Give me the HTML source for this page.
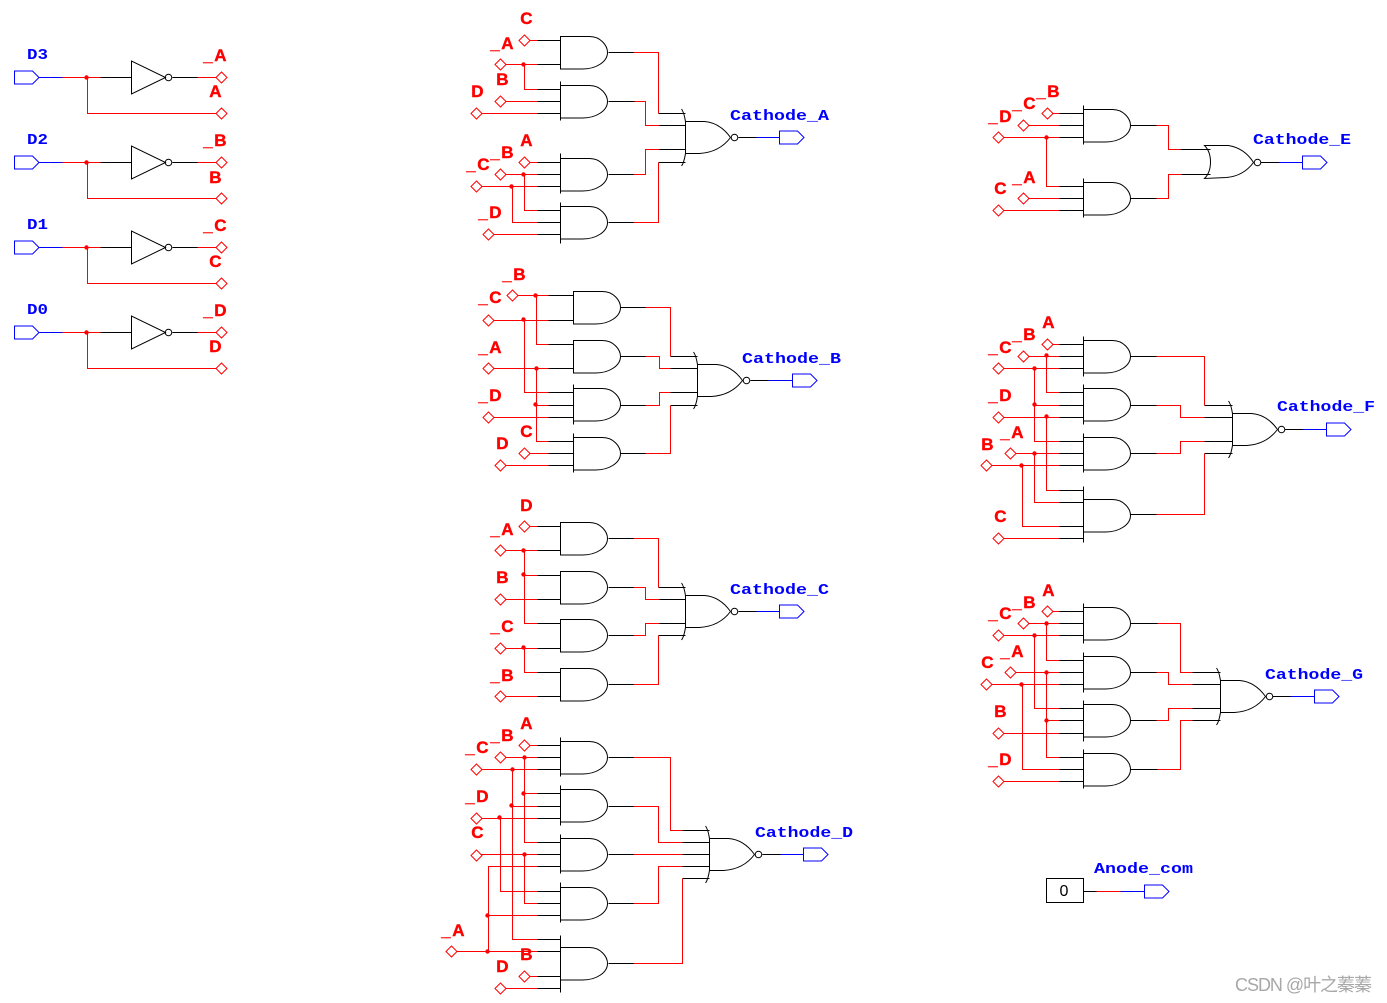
<!DOCTYPE html>
<html>
<head>
<meta charset="utf-8">
<style>
html,body{margin:0;padding:0;background:#fff;}
svg{display:block;}
.r{font:bold 17px "Liberation Sans",sans-serif;fill:#f00;stroke:#f00;stroke-width:.4px;}
.u{letter-spacing:1.5px;}
.b{font:bold 15px "Liberation Mono",monospace;fill:#00f;}
</style>
</head>
<body>
<svg width="1387" height="1003" viewBox="0 0 1387 1003" xmlns="http://www.w3.org/2000/svg">
<defs>
<path id="a" d="M0 0H29C40 0 47 9 47 16C47 25 36 32.5 22 32.5H0Z" fill="none" stroke="#000"/>
<g id="n" fill="none" stroke="#000">
<path d="M0 -16H19C32 -15 40 -7 45 0C39 8 30 15 14 16H0Z"/>
<path d="M-4 -28.5C-2 -26 -1 -22 0 -16V16C-1 22 -2 26 -4 28.5"/>
<circle cx="49" cy="0" r="3.3"/>
</g>
<path id="p" d="M0 -6.5H18L24.5 0L18 6.5H0Z" fill="none" stroke="#00f"/>
<path id="d" d="M-5.5 0L0 -5.5L5.5 0L0 5.5Z" fill="none" stroke="#f00"/>
<circle id="j" r="2.2" fill="#f00"/>
<g id="i" fill="none" stroke="#000">
<path d="M131 -16.5V16.5L165 0Z"/>
<circle cx="168" cy="0" r="3.3"/>
</g>
</defs>

<g transform="translate(0.5,0.5)">
<!-- inverters -->
<g fill="none" stroke-width="1">
<path stroke="#00f" d="M39 77H62M39 162H62M39 247H62M39 332H62"/>
<path stroke="#f00" d="M62 77H100M87 77V113H216M197 77H216M62 162H100M87 162V198H216M197 162H216M62 247H100M87 247V283H216M197 247H216M62 332H100M87 332V368H216M197 332H216"/>
<path stroke="#000" d="M100 77H131M172 77H197M100 162H131M172 162H197M100 247H131M172 247H197M100 332H131M172 332H197"/>
</g>
<use href="#i" y="77"/><use href="#i" y="162"/><use href="#i" y="247"/><use href="#i" y="332"/>
<use href="#p" x="14" y="77"/><use href="#p" x="14" y="162"/><use href="#p" x="14" y="247"/><use href="#p" x="14" y="332"/>
<use href="#j" x="86" y="77"/><use href="#j" x="86" y="162"/><use href="#j" x="86" y="247"/><use href="#j" x="86" y="332"/>
<use href="#d" x="221" y="77"/><use href="#d" x="221" y="113"/><use href="#d" x="221" y="162"/><use href="#d" x="221" y="198"/><use href="#d" x="221" y="247"/><use href="#d" x="221" y="283"/><use href="#d" x="221" y="332"/><use href="#d" x="221" y="368"/>

<!-- Section A -->
<g fill="none">
<path stroke="#000" d="M537 40H560M537 64H560M537 89H560M537 101H560M537 113H560M537 162H560M537 174H560M537 186H560M537 210H560M537 222H560M537 234H560M560 81V120M560 153V193M560 202V243M608 52H633M608 101H634M608 174H633M608 222H633M658 113H685M659 125H685M659 149H685M658 162H685M738 137H756"/>
<path stroke="#f00" d="M529 40H537M505 64H537M524 64V89H537M505 101H537M481 113H537M529 162H537M505 174H537M524 174V210H537M481 186H537M512 186V222H537M493 234H537M633 52H658V113M634 101H645V125H659M633 174H645V149H659M633 222H658V162"/>
<path stroke="#00f" d="M756 137H779"/>
</g>
<use href="#a" x="560" y="36"/><use href="#a" x="560" y="85"/><use href="#a" x="560" y="158"/><use href="#a" x="560" y="206"/>
<use href="#n" x="685" y="137"/><use href="#p" x="779" y="137"/>
<use href="#j" x="523" y="64"/><use href="#j" x="523" y="174"/><use href="#j" x="511" y="186"/>
<use href="#d" x="524" y="40"/><use href="#d" x="500" y="64"/><use href="#d" x="500" y="101"/><use href="#d" x="476" y="113"/><use href="#d" x="524" y="162"/><use href="#d" x="500" y="174"/><use href="#d" x="476" y="186"/><use href="#d" x="488" y="234"/>

<!-- Section B -->
<g fill="none">
<path stroke="#000" d="M548 295H573M548 320H573M548 344H573M548 368H573M548 392H573M548 405H573M548 417H573M548 441H573M548 453H573M548 465H573M573 384V424M573 433V472M620 307H645M620 356H645M620 405H645M620 453H645M670 356H697M670 368H697M670 392H697M670 405H697M750 380H768"/>
<path stroke="#f00" d="M517 295H548M536 295V344H548M493 320H548M524 320V392H548M493 368H548M536 368V441H548M536 405H548M493 417H548M529 453H548M505 465H548M645 307H670V356M645 356H659V368H670M645 405H659V392H670M645 453H670V405"/>
<path stroke="#00f" d="M768 380H792"/>
</g>
<use href="#a" x="573" y="291"/><use href="#a" x="573" y="340"/><use href="#a" x="573" y="388"/><use href="#a" x="573" y="437"/>
<use href="#n" x="697" y="380"/><use href="#p" x="792" y="380"/>
<use href="#j" x="535" y="295"/><use href="#j" x="523" y="319"/><use href="#j" x="536" y="368"/><use href="#j" x="535" y="404"/>
<use href="#d" x="512" y="295"/><use href="#d" x="488" y="320"/><use href="#d" x="488" y="368"/><use href="#d" x="488" y="417"/><use href="#d" x="524" y="453"/><use href="#d" x="500" y="465"/>

<!-- Section C -->
<g fill="none">
<path stroke="#000" d="M537 526H560M537 550H560M537 575H560M537 599H560M537 623H560M537 648H560M537 672H560M537 696H560M608 538H633M608 587H633M608 635H633M608 684H633M658 587H685M659 599H685M659 623H685M658 635H685M738 611H756"/>
<path stroke="#f00" d="M529 526H537M505 550H537M524 550V623H537M524 575H537M505 599H537M505 648H537M524 648V672H537M505 696H537M633 538H658V587M633 587H645V599H659M633 635H645V623H659M633 684H658V635"/>
<path stroke="#00f" d="M756 611H779"/>
</g>
<use href="#a" x="560" y="522"/><use href="#a" x="560" y="571"/><use href="#a" x="560" y="619"/><use href="#a" x="560" y="668"/>
<use href="#n" x="685" y="611"/><use href="#p" x="779" y="611"/>
<use href="#j" x="523" y="550"/><use href="#j" x="523" y="574"/><use href="#j" x="523" y="647"/>
<use href="#d" x="524" y="526"/><use href="#d" x="500" y="550"/><use href="#d" x="500" y="599"/><use href="#d" x="500" y="648"/><use href="#d" x="500" y="696"/>

<!-- Section D -->
<g fill="none">
<path stroke="#000" d="M537 745H560M537 757H560M537 769H560M537 793H560M537 806H560M537 818H560M537 842H560M537 854H560M537 866H560M537 891H560M537 903H560M537 915H560M537 939H560M537 951H560M537 976H560M537 988H560M560 737V776M560 785V825M560 834V873M560 882V922M560 935V992M608 757H633M608 806H633M608 854H633M608 903H633M608 963H633M682 830H709M682 842H709M682 854H709M682 866H709M682 878H709M762 854H780"/>
<path stroke="#f00" d="M529 745H537M505 757H537M524 757V842H537M524 793H537M481 769H537M512 769V939H537M512 806H537M481 818H537M500 818V891H537M481 854H537M524 854V903H537M456 951H537M488 951V866H537M488 915H537M529 976H537M505 988H537M633 757H670V830H682M633 806H658V842H682M633 854H682M633 903H658V866H682M633 963H682V878"/>
<path stroke="#00f" d="M780 854H803"/>
</g>
<use href="#a" x="560" y="741"/><use href="#a" x="560" y="789"/><use href="#a" x="560" y="838"/><use href="#a" x="560" y="887"/><use href="#a" x="560" y="947"/>
<use href="#n" x="709" y="854"/><use href="#p" x="803" y="854"/>
<use href="#j" x="524" y="757"/><use href="#j" x="523" y="793"/><use href="#j" x="512" y="769"/><use href="#j" x="511" y="805"/><use href="#j" x="499" y="817"/><use href="#j" x="524" y="854"/><use href="#j" x="487" y="915"/><use href="#j" x="487" y="951"/>
<use href="#d" x="524" y="745"/><use href="#d" x="500" y="757"/><use href="#d" x="476" y="769"/><use href="#d" x="476" y="818"/><use href="#d" x="476" y="855"/><use href="#d" x="451" y="951"/><use href="#d" x="524" y="976"/><use href="#d" x="500" y="988"/>

<!-- Section E -->
<g fill="none">
<path stroke="#000" d="M1059 113H1083M1059 125H1083M1059 137H1083M1059 186H1083M1059 198H1083M1059 210H1083M1083 105V144M1083 178V217M1130 125H1156M1130 198H1156M1180 149H1210M1181 174H1210M1260 162H1278"/>
<path stroke="#f00" d="M1052 113H1059M1028 125H1059M1003 137H1059M1046 137V186H1059M1028 198H1059M1003 210H1059M1156 125H1168V149H1180M1156 198H1168V174H1181"/>
<path stroke="#00f" d="M1278 162H1302"/>
<path stroke="#000" d="M1204 145H1228C1240 147 1248 154 1253 162C1247 170 1238 176 1226 177L1204 178C1212 170 1212 153 1204 145Z"/>
<circle cx="1257" cy="162" r="3.3" stroke="#000"/>
</g>
<use href="#a" x="1083" y="109"/><use href="#a" x="1083" y="182"/>
<use href="#p" x="1302" y="162"/>
<use href="#j" x="1046" y="137"/>
<use href="#d" x="1047" y="113"/><use href="#d" x="1023" y="125"/><use href="#d" x="998" y="137"/><use href="#d" x="1023" y="198"/><use href="#d" x="998" y="210"/>

<!-- Section F -->
<g fill="none">
<path stroke="#000" d="M1059 344H1083M1059 356H1083M1059 368H1083M1059 392H1083M1059 405H1083M1059 417H1083M1059 441H1083M1059 453H1083M1059 465H1083M1059 490H1083M1059 502H1083M1059 526H1083M1059 538H1083M1083 336V376M1083 384V424M1083 433V472M1083 486V542M1130 356H1156M1130 405H1156M1130 453H1156M1130 514H1156M1204 405H1232M1204 417H1232M1204 441H1232M1204 453H1232M1284 429H1302"/>
<path stroke="#f00" d="M1052 344H1059M1028 356H1059M1046 356V392H1059M1003 368H1059M1034 368V441H1059M1034 405H1059M1003 417H1059M1046 417V490H1059M1015 453H1059M1034 453V502H1059M991 465H1059M1022 465V526H1059M1003 538H1059M1156 356H1204V405M1156 405H1180V417H1204M1156 453H1180V441H1204M1156 514H1204V453"/>
<path stroke="#00f" d="M1302 429H1326"/>
</g>
<use href="#a" x="1083" y="340"/><use href="#a" x="1083" y="388"/><use href="#a" x="1083" y="437"/><use href="#a" x="1083" y="499"/>
<use href="#n" x="1232" y="429"/><use href="#p" x="1326" y="429"/>
<use href="#j" x="1046" y="355"/><use href="#j" x="1034" y="368"/><use href="#j" x="1034" y="404"/><use href="#j" x="1046" y="416"/><use href="#j" x="1034" y="453"/><use href="#j" x="1021" y="465"/>
<use href="#d" x="1047" y="344"/><use href="#d" x="1023" y="356"/><use href="#d" x="998" y="368"/><use href="#d" x="998" y="417"/><use href="#d" x="1010" y="453"/><use href="#d" x="986" y="465"/><use href="#d" x="998" y="538"/>

<!-- Section G -->
<g fill="none">
<path stroke="#000" d="M1059 611H1083M1059 623H1083M1059 635H1083M1059 660H1083M1059 672H1083M1059 684H1083M1059 708H1083M1059 720H1083M1059 733H1083M1059 757H1083M1059 769H1083M1059 781H1083M1083 603V643M1083 652V692M1083 700V741M1083 749V788M1130 623H1157M1130 672H1156M1130 720H1156M1130 769H1157M1192 672H1220M1192 684H1220M1192 708H1220M1192 720H1220M1272 696H1290"/>
<path stroke="#f00" d="M1052 611H1059M1028 623H1059M1046 623V660H1059M1003 635H1059M1034 635V708H1059M1015 672H1059M1046 672V757H1059M1046 720H1059M991 684H1059M1022 684V769H1059M1003 733H1059M1003 781H1059M1157 623H1180V672H1192M1156 672H1168V684H1192M1156 720H1168V708H1192M1157 769H1180V720H1192"/>
<path stroke="#00f" d="M1290 696H1314"/>
</g>
<use href="#a" x="1083" y="607"/><use href="#a" x="1083" y="656"/><use href="#a" x="1083" y="704"/><use href="#a" x="1083" y="753"/>
<use href="#n" x="1220" y="696"/><use href="#p" x="1314" y="696"/>
<use href="#j" x="1046" y="623"/><use href="#j" x="1034" y="635"/><use href="#j" x="1046" y="672"/><use href="#j" x="1021" y="684"/><use href="#j" x="1046" y="720"/>
<use href="#d" x="1047" y="611"/><use href="#d" x="1023" y="623"/><use href="#d" x="998" y="635"/><use href="#d" x="1010" y="672"/><use href="#d" x="986" y="684"/><use href="#d" x="998" y="733"/><use href="#d" x="998" y="781"/>

<!-- Anode -->
<rect x="1046" y="878" width="37" height="24" fill="none" stroke="#000"/>
<path d="M1083 891H1096" stroke="#000"/><path d="M1096 891H1120" stroke="#f00"/><path d="M1120 891H1144" stroke="#00f"/>
<use href="#p" x="1144" y="891"/>
</g>

<text x="1064" y="896" text-anchor="middle" font-family="Liberation Sans,sans-serif" font-size="16" fill="#000">0</text>

<!-- Blue labels -->
<g transform="translate(0,-1)">
<text class="b" x="27" y="60" textLength="21" lengthAdjust="spacingAndGlyphs">D3</text>
<text class="b" x="27" y="145" textLength="21" lengthAdjust="spacingAndGlyphs">D2</text>
<text class="b" x="27" y="230" textLength="21" lengthAdjust="spacingAndGlyphs">D1</text>
<text class="b" x="27" y="315" textLength="21" lengthAdjust="spacingAndGlyphs">D0</text>
<text class="b" x="730" y="121" textLength="99" lengthAdjust="spacingAndGlyphs">Cathode_A</text>
<text class="b" x="742" y="364" textLength="99" lengthAdjust="spacingAndGlyphs">Cathode_B</text>
<text class="b" x="730" y="595" textLength="99" lengthAdjust="spacingAndGlyphs">Cathode_C</text>
<text class="b" x="755" y="838" textLength="98" lengthAdjust="spacingAndGlyphs">Cathode_D</text>
<text class="b" x="1253" y="145" textLength="98" lengthAdjust="spacingAndGlyphs">Cathode_E</text>
<text class="b" x="1277" y="412" textLength="98" lengthAdjust="spacingAndGlyphs">Cathode_F</text>
<text class="b" x="1265" y="680" textLength="98" lengthAdjust="spacingAndGlyphs">Cathode_G</text>
<text class="b" x="1094" y="874" textLength="99" lengthAdjust="spacingAndGlyphs">Anode_com</text>
</g>

<!-- Red labels -->
<g transform="translate(-0.7,0)">
<text class="r u" x="204" y="61">_A</text><text class="r" x="210" y="97">A</text>
<text class="r u" x="204" y="146">_B</text><text class="r" x="210" y="183">B</text>
<text class="r u" x="204" y="231">_C</text><text class="r" x="210" y="267">C</text>
<text class="r u" x="204" y="316">_D</text><text class="r" x="210" y="352">D</text>

<text class="r" x="521" y="24">C</text><text class="r u" x="491" y="49">_A</text><text class="r" x="497" y="85">B</text><text class="r" x="472" y="97">D</text>
<text class="r" x="521" y="146">A</text><text class="r u" x="491" y="158">_B</text><text class="r u" x="467" y="170">_C</text><text class="r u" x="479" y="218">_D</text>

<text class="r u" x="503" y="280">_B</text><text class="r u" x="479" y="303">_C</text><text class="r u" x="479" y="353">_A</text><text class="r u" x="479" y="401">_D</text><text class="r" x="521" y="437">C</text><text class="r" x="497" y="449">D</text>

<text class="r" x="521" y="511">D</text><text class="r u" x="491" y="535">_A</text><text class="r" x="497" y="583">B</text><text class="r u" x="491" y="632">_C</text><text class="r u" x="491" y="681">_B</text>

<text class="r" x="521" y="729">A</text><text class="r u" x="491" y="741">_B</text><text class="r u" x="466" y="753">_C</text><text class="r u" x="466" y="802">_D</text><text class="r" x="472" y="838">C</text><text class="r u" x="442" y="936">_A</text><text class="r" x="521" y="960">B</text><text class="r" x="497" y="972">D</text>

<text class="r u" x="1037" y="97">_B</text><text class="r u" x="1013" y="109">_C</text><text class="r u" x="989" y="122">_D</text><text class="r u" x="1013" y="183">_A</text><text class="r" x="995" y="194">C</text>

<text class="r" x="1043" y="328">A</text><text class="r u" x="1013" y="340">_B</text><text class="r u" x="989" y="353">_C</text><text class="r u" x="989" y="401">_D</text><text class="r u" x="1001" y="438">_A</text><text class="r" x="982" y="450">B</text><text class="r" x="995" y="522">C</text>

<text class="r" x="1043" y="596">A</text><text class="r u" x="1013" y="608">_B</text><text class="r u" x="989" y="619">_C</text><text class="r u" x="1001" y="657">_A</text><text class="r" x="982" y="668">C</text><text class="r" x="995" y="717">B</text><text class="r u" x="989" y="765">_D</text>
</g>

<text x="1235" y="991" font-family="Liberation Sans,Noto Sans CJK SC,sans-serif" font-size="18" fill="#a8a8a8" textLength="137">CSDN @叶之蓁蓁</text>
</svg>
</body>
</html>
